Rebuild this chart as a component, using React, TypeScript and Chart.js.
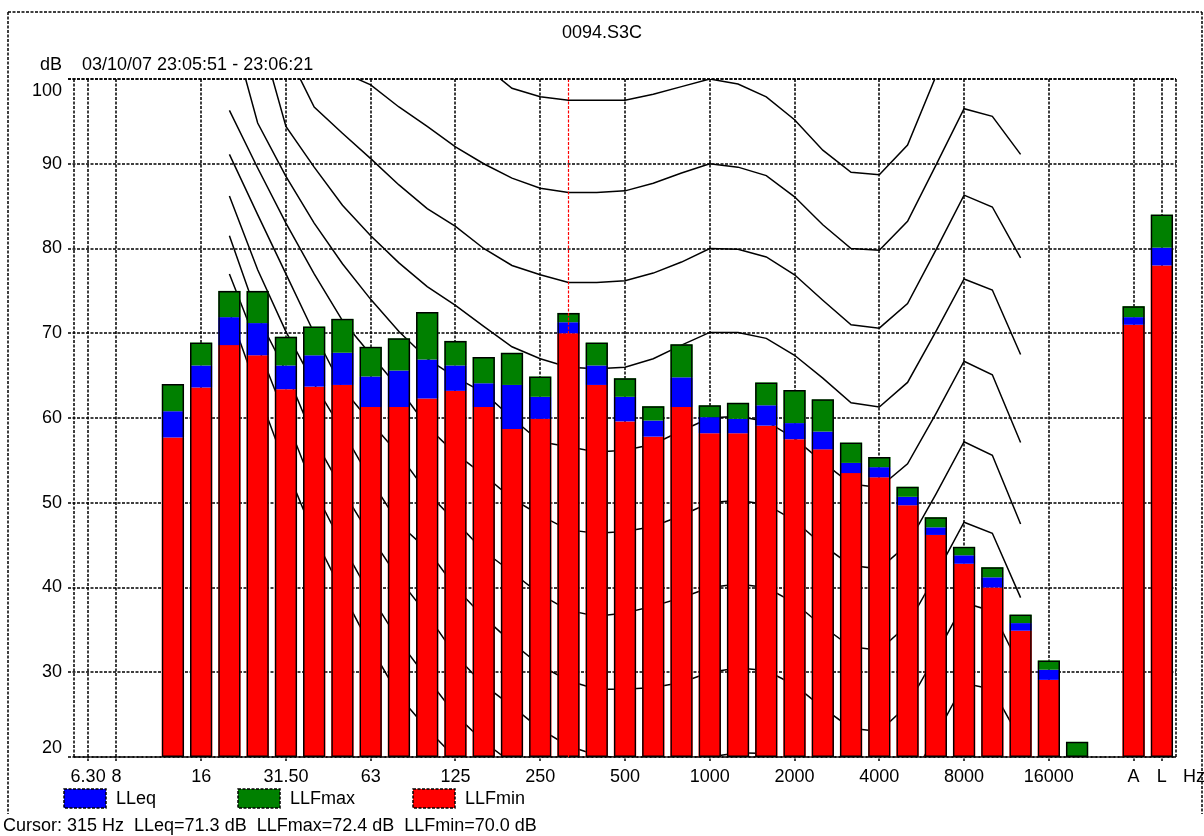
import React, { useEffect, useRef } from "react";
import { Chart, registerables } from "chart.js";

Chart.register(...registerables);

// ---------- data ----------
const BANDS = ["6.3","8","10","12.5","16","20","25","31.5","40","50","63","80","100","125","160","200","250","315","400","500","630","800","1000","1250","1600","2000","2500","3150","4000","5000","6300","8000","10000","12500","16000","20000","","A","L"];
const TICK_LABELS = ["6.30","8","","","16","","","31.50","","","63","","","125","","","250","","","500","","","1000","","","2000","","","4000","","","8000","","","16000","","","A","L"];
const Y_TICKS = [20, 30, 40, 50, 60, 70, 80, 90, 100];

const LLF_MIN = [null,null,null,57.7,63.6,68.6,67.4,63.4,63.7,63.9,61.3,61.3,62.3,63.2,61.3,58.7,59.9,70.0,63.9,59.6,57.8,61.3,58.2,58.2,59.1,57.5,56.3,53.5,53.0,49.7,46.2,42.8,40.0,34.9,29.1,19.0,null,71.0,78.0];
const LL_EQ = [null,null,null,60.8,66.2,71.9,71.2,66.2,67.4,67.7,64.9,65.6,66.9,66.2,64.1,63.9,62.5,71.3,66.2,62.5,59.7,64.8,60.1,59.9,61.5,59.4,58.4,54.7,54.2,50.7,47.1,43.8,41.2,35.8,30.3,19.5,null,71.9,80.1];
const LLF_MAX = [null,null,null,64.0,68.9,75.0,75.0,69.6,70.8,71.7,68.4,69.4,72.5,69.1,67.2,67.7,64.9,72.4,68.9,64.7,61.4,68.7,61.5,61.8,64.2,63.3,62.2,57.1,55.4,51.9,48.3,44.8,42.4,36.8,31.4,21.8,null,73.2,84.0];

const CURSOR_INDEX = 17;

// equal loudness contours, 20 Hz .. 12500 Hz (third octaves)
const CONTOUR_FIRST = 5;
const PHON_100 = [118,115,112,109.5,107.5,105.5,103.8,102.8,102.2,101.6,98.9,97.9,97.5,97.5,97.5,98.2,99.1,100,99.4,97.9,95.2,91.6,89.0,88.7,92.2,100.3,106.7,105.6,101.1];
const PHON_90 = [110.5,108,105.5,103,100.8,99.3,96.7,94.4,92.0,90.0,88.3,87.1,86.6,86.6,86.8,87.7,88.9,90,89.6,88.6,86.1,82.8,80.0,79.8,83.2,89.8,96.5,95.6,91.1];
const PHON_80 = [116,110,103.4,96.7,93.6,90.6,87.5,84.7,82.6,80.0,78.0,76.9,76.0,76.0,76.2,77.1,78.4,80,79.9,79.0,76.9,73.9,71.0,70.6,73.5,79.8,86.3,84.9,78.9];
const PHON_70 = [110,106.3,94.4,89.6,85.1,81.5,78.3,75.5,73.3,70.8,68.4,67.0,66.0,65.8,66.0,67.0,68.6,70.1,70.1,69.4,67.4,64.7,61.8,61.3,64.2,70.2,76.4,75.1,67.5];
const PHON_60 = [107,94.8,88.5,83,78.2,74,70.2,67,64.8,63,60,57.2,56.6,56,56.2,56.9,58.5,60,60.2,59.6,57.6,54.8,52.2,51.8,54.6,60.5,66.7,65.1,57.1];
const PHON_50 = [96.3,89.5,83,77,71.5,67.5,63.5,59,55.8,53.3,50.5,48.5,46.8,46.4,46.6,47.2,48.5,50,50.3,49.8,47.9,45,42.6,42.2,45.1,51,57.2,55.6,47.5];
const PHON_40 = [91.1,84,77,70,63.5,59.5,55.7,51.2,47.8,44.3,41.8,39.2,37.3,36.6,37,37.8,38.8,40,40.4,40,38.2,35.4,33,32.6,35.6,41.5,47.7,46.4,38.8];
const PHON_30 = [86.2,77.5,70.2,64,58.5,52.7,47.5,44.5,40,36.5,33.5,30.8,29,28,28,28.2,28.8,30,30.5,30.2,28.5,25.8,23.4,23,26.1,32,38.2,37.2,30.5];
const PHON_20 = [81.5,72,65.5,57.5,51.5,46,41,36.8,32,28.5,26,23.3,21.3,20.2,19.8,19.8,19.9,20,20.5,20.4,18.8,16.2,13.8,13.4,16.6,22.5,28.7,28,22];
const PHON_10 = [77,68.5,60,51.5,45,39,33.7,29.3,25,21.8,19.3,17,15,13.5,12.5,12,11,10,10.5,10.5,9,6.5,4,3.5,7,13,19.2,18.8,13];
const PHON_0 = [72.5,63.2,54.2,46.1,39.4,33,27.2,23.3,19.9,16.5,13.5,11,9,7.5,5.5,4,2,0,0.5,0.5,-1,-3.5,-6,-6.5,-3,3.5,9.7,9.6,3.5];
const CONTOURS = [PHON_100, PHON_90, PHON_80, PHON_70, PHON_60, PHON_50, PHON_40, PHON_30, PHON_20, PHON_10, PHON_0];

const TITLE = "0094.S3C";
const Y_UNIT = "dB";
const PERIOD = "03/10/07 23:05:51 - 23:06:21";
const X_UNIT = "Hz";
const SERIES_NAMES = ["LLeq", "LLFmax", "LLFmin"];

// ---------- styles ----------
const Y_MIN = 20;
const Y_MAX = 100;
const FONT = '"Liberation Sans", Arial, sans-serif';
const RED = "#ff0000";
const BLUE = "#0000ff";
const GREEN = "#008000";
const DASH = [3, 1.5];
const LEGEND_BOX_X = [64, 238, 413];

function pad(values: number[]) {
  const out: (number | null)[] = BANDS.map(() => null);
  values.forEach((v, i) => { out[CONTOUR_FIRST + i] = v; });
  return out;
}

function dotted(ctx: CanvasRenderingContext2D, x1: number, y1: number, x2: number, y2: number, color = "#000", w = 1.5) {
  ctx.save();
  ctx.strokeStyle = color;
  ctx.lineWidth = w;
  ctx.setLineDash(DASH);
  ctx.beginPath();
  ctx.moveTo(x1, y1);
  ctx.lineTo(x2, y2);
  ctx.stroke();
  ctx.restore();
}

const decor = {
  id: "decor",
  beforeDatasetsDraw(chart: any) {
    const { ctx, chartArea: a, scales } = chart;
    const x = scales.x, y = scales.y;
    Y_TICKS.forEach((v) => {
      const py = Math.round(y.getPixelForValue(v));
      dotted(ctx, a.left - 6, py, a.right, py);
    });
    TICK_LABELS.forEach((t, i) => {
      if (!t) return;
      const px = Math.round(x.getPixelForValue(i));
      dotted(ctx, px, a.top, px, a.bottom + 4);
    });
    dotted(ctx, Math.round(a.left), a.top, Math.round(a.left), a.bottom);
    dotted(ctx, Math.round(a.right), a.top, Math.round(a.right), a.bottom);
  },
  afterDatasetsDraw(chart: any) {
    const { ctx, chartArea: a, scales } = chart;
    const x = scales.x, y = scales.y;
    const px = Math.round(x.getPixelForValue(CURSOR_INDEX)) + 0.5;
    dotted(ctx, px, a.top, px, a.bottom, RED, 1.2);
    const by = Math.round(y.getPixelForValue(Y_MIN));
    dotted(ctx, a.left, by, a.right, by);
    const ty = Math.round(y.getPixelForValue(Y_MAX));
    dotted(ctx, a.left - 6, ty, a.right, ty);
  },
  afterDraw(chart: any) {
    const { ctx, chartArea: a, scales, width } = chart;
    const x = scales.x, y = scales.y;
    ctx.save();
    ctx.fillStyle = "#000";
    ctx.font = `18px ${FONT}`;
    ctx.textBaseline = "middle";
    // title
    ctx.textAlign = "center";
    ctx.fillText(TITLE, 602, 33);
    // unit + period
    ctx.textAlign = "right";
    ctx.fillText(Y_UNIT, 62, 65);
    ctx.textAlign = "left";
    ctx.fillText(PERIOD, 82, 65);
    // y labels
    ctx.textAlign = "right";
    Y_TICKS.forEach((v) => {
      let py = y.getPixelForValue(v);
      py = Math.max(a.top + 12, Math.min(a.bottom - 9, py));
      ctx.fillText(String(v), 62, py);
    });
    // x labels
    ctx.textAlign = "center";
    TICK_LABELS.forEach((t, i) => {
      if (!t) return;
      ctx.fillText(t, x.getPixelForValue(i), a.bottom + 20);
    });
    ctx.textAlign = "left";
    ctx.fillText(X_UNIT, 1183, a.bottom + 20);
    // legend
    const colors = [BLUE, GREEN, RED];
    SERIES_NAMES.forEach((name, i) => {
      const bx = LEGEND_BOX_X[i];
      ctx.fillStyle = colors[i];
      ctx.fillRect(bx, 789, 42, 19);
      ctx.strokeStyle = "#000";
      ctx.setLineDash(DASH);
      ctx.lineWidth = 1.5;
      ctx.strokeRect(bx, 789, 42, 19);
      ctx.setLineDash([]);
      ctx.fillStyle = "#000";
      ctx.fillText(name, bx + 52, 799);
    });
    // cursor readout
    const cursor = `Cursor: ${BANDS[CURSOR_INDEX]} Hz  LLeq=${(LL_EQ[CURSOR_INDEX] as number).toFixed(1)} dB  LLFmax=${(LLF_MAX[CURSOR_INDEX] as number).toFixed(1)} dB  LLFmin=${(LLF_MIN[CURSOR_INDEX] as number).toFixed(1)} dB`;
    ctx.fillText(cursor, 3, 826);
    ctx.restore();
    // outer frame
    dotted(ctx, 8, 12, width - 2, 12);
    dotted(ctx, 8, 12, 8, 814);
    dotted(ctx, width - 2, 12, width - 2, 814);
  },
};

export default function App() {
  const ref = useRef<HTMLCanvasElement>(null);
  useEffect(() => {
    if (!ref.current) return;
    const barCommon = { grouped: false, barPercentage: 0.79, categoryPercentage: 1, clip: 0, borderWidth: 0 };
    const datasets: any[] = [];
    CONTOURS.forEach((c, i) => {
      datasets.push({
        type: "line",
        label: "contour" + i,
        data: pad(c),
        borderColor: "#000",
        borderWidth: 1.5,
        pointRadius: 0,
        fill: false,
        tension: 0,
        spanGaps: false,
        clip: 0,
        order: 10,
      });
    });
    datasets.push({ type: "bar", label: "LLFmin", data: LLF_MIN.map((v) => (v == null ? null : [Y_MIN, v])), backgroundColor: RED, order: 5, ...barCommon });
    datasets.push({ type: "bar", label: "LLeq", data: LLF_MIN.map((v, i) => (v == null ? null : [v, LL_EQ[i]])), backgroundColor: BLUE, order: 4, ...barCommon });
    datasets.push({ type: "bar", label: "LLFmax", data: LL_EQ.map((v, i) => (v == null ? null : [v, LLF_MAX[i]])), backgroundColor: GREEN, order: 3, ...barCommon });
    datasets.push({
      type: "bar", label: "outline",
      data: LLF_MAX.map((v) => (v == null ? null : [Y_MIN, v])),
      backgroundColor: "rgba(0,0,0,0)", borderColor: "#000", borderSkipped: false,
      order: 1, ...barCommon, borderWidth: 1.5,
    });

    const chart = new Chart(ref.current, {
      type: "bar",
      data: { labels: BANDS, datasets },
      options: {
        responsive: false,
        animation: false,
        devicePixelRatio: 1,
        events: [],
        layout: { padding: { left: 74, right: 28, top: 79, bottom: 79 } },
        plugins: { legend: { display: false }, tooltip: { enabled: false } },
        scales: {
          x: { type: "category", display: false, offset: true, grid: { display: false } },
          y: { type: "linear", display: false, min: Y_MIN, max: Y_MAX, grid: { display: false } },
        },
      } as any,
      plugins: [decor],
    });
    return () => chart.destroy();
  }, []);
  return (
    <div style={{ position: "fixed", left: 0, top: 0, width: 1204, height: 836, background: "#fff" }}>
      <canvas ref={ref} width={1204} height={836} style={{ display: "block" }} />
    </div>
  );
}
